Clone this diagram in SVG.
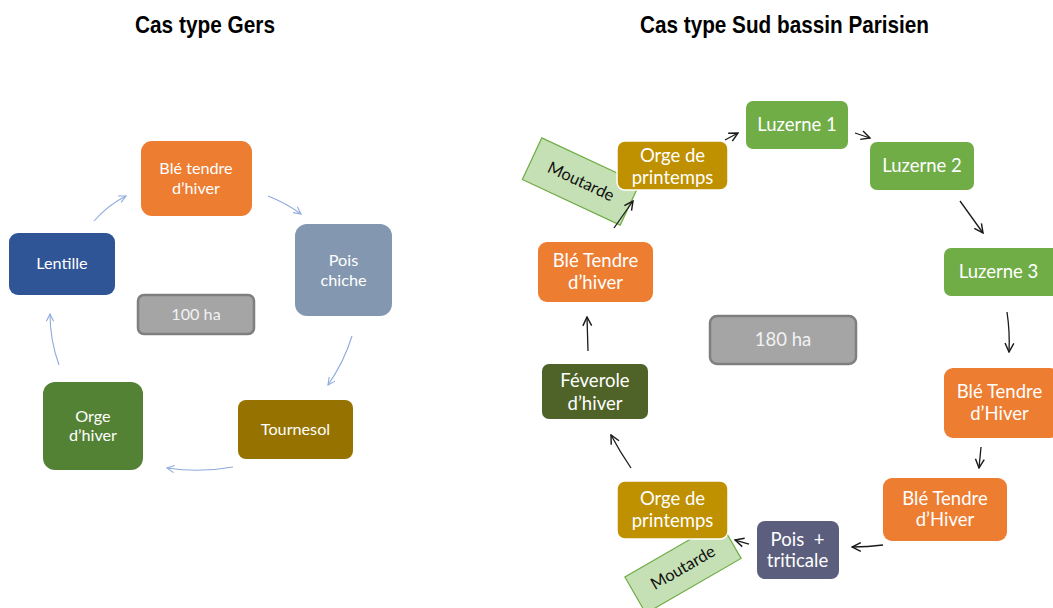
<svg xmlns="http://www.w3.org/2000/svg" width="1053" height="608" viewBox="0 0 1053 608">
<style>
.title{font-family:"Liberation Sans",Arial,sans-serif;font-weight:bold;font-size:24px;fill:#000}
.tl{font-family:Lato,"Open Sans",sans-serif;font-size:16.2px;fill:#fff;text-anchor:middle}
.tr{font-family:Lato,"Open Sans",sans-serif;font-size:18.5px;fill:#fff;text-anchor:middle}
.mt{font-family:Lato,"Open Sans",sans-serif;font-size:16.5px;fill:#111;text-anchor:middle}
.ha{fill:#A5A5A5;stroke:#7F7F7F;stroke-width:2.5}
.hat{fill:#F2F2F2}
.must{fill:#C5E0B4;stroke:#70AD47;stroke-width:1.2}
.cb{fill:none;stroke:#8FAADC;stroke-width:1.1;marker-end:url(#ab)}
.ck{fill:none;stroke:#1a1a1a;stroke-width:1.3;marker-end:url(#ak)}
.orge{fill:#BF9000;stroke:#fff;stroke-width:1.5}
.luz{fill:#70AD47}
.ble{fill:#ED7D31}
</style>
<defs>
<marker id="ab" viewBox="0 0 10 10" refX="9" refY="5" markerWidth="9" markerHeight="9" markerUnits="userSpaceOnUse" orient="auto">
<path d="M1,1 L9,5 L1,9" fill="none" stroke="#8FAADC" stroke-width="1.2"/>
</marker>
<marker id="ak" viewBox="0 0 10 10" refX="9" refY="5" markerWidth="11" markerHeight="11" markerUnits="userSpaceOnUse" orient="auto">
<path d="M1,1 L9,5 L1,9" fill="none" stroke="#1a1a1a" stroke-width="1.3"/>
</marker>
</defs>
<rect width="1053" height="608" fill="#fff"/>

<text class="title" x="135" y="33" textLength="140" lengthAdjust="spacingAndGlyphs">Cas type Gers</text>
<text class="title" x="640" y="33" textLength="289" lengthAdjust="spacingAndGlyphs">Cas type Sud bassin Parisien</text>

<g id="n-ble-gers"><rect class="ble" x="141" y="141" width="111" height="75" rx="11"/>
<text class="tl" x="196" y="173.5">Blé tendre</text><text class="tl" x="196" y="193.5">d’hiver</text></g>
<g id="n-pois-chiche"><rect x="295" y="224" width="97" height="92" rx="12" fill="#8497B0"/>
<text class="tl" x="343.5" y="266">Pois</text><text class="tl" x="343.5" y="285.5">chiche</text></g>
<g id="n-tournesol"><rect x="238" y="400" width="115" height="59" rx="8" fill="#967300"/>
<text class="tl" x="295.5" y="434.5">Tournesol</text></g>
<g id="n-orge-hiver"><rect x="43" y="382" width="100" height="88" rx="12" fill="#548235"/>
<text class="tl" x="93" y="421.5">Orge</text><text class="tl" x="93" y="441">d’hiver</text></g>
<g id="n-lentille"><rect x="9" y="233" width="106" height="62" rx="9" fill="#2F5597"/>
<text class="tl" x="62" y="268.5">Lentille</text></g>
<g id="n-100ha"><rect class="ha" x="138" y="295" width="116" height="39" rx="6"/>
<text class="tl hat" x="196" y="319.5">100 ha</text></g>

<g id="n-moutarde-1"><g transform="translate(581,181.5) rotate(25)">
<rect class="must" x="-54" y="-23" width="108" height="46"/>
<text class="mt" x="0" y="5.5">Moutarde</text></g></g>
<g id="n-orge-printemps-1"><rect class="orge" x="617" y="141" width="111" height="49" rx="8"/>
<text class="tr" x="672.5" y="162">Orge de</text><text class="tr" x="672.5" y="183.5">printemps</text></g>
<g id="n-luzerne-1"><rect class="luz" x="746" y="101" width="102" height="48" rx="7"/>
<text class="tr" x="797" y="131.3">Luzerne 1</text></g>
<g id="n-luzerne-2"><rect class="luz" x="870" y="142" width="104" height="48" rx="7"/>
<text class="tr" x="922" y="172.3">Luzerne 2</text></g>
<g id="n-luzerne-3"><rect class="luz" x="944" y="248" width="115" height="48" rx="7"/>
<text class="tr" x="998.5" y="278.3">Luzerne 3</text></g>
<g id="n-ble-hiver-1"><rect class="ble" x="944" y="368" width="115" height="70" rx="9"/>
<text class="tr" x="999.5" y="398.3">Blé Tendre</text><text class="tr" x="999.5" y="420.3">d’Hiver</text></g>
<g id="n-ble-hiver-2"><rect class="ble" x="883" y="478" width="124" height="63" rx="9"/>
<text class="tr" x="945" y="504.6">Blé Tendre</text><text class="tr" x="945" y="526.3">d’Hiver</text></g>
<g id="n-pois-triticale"><rect x="757" y="521" width="82" height="58" rx="8" fill="#5B5E7C"/>
<text class="tr" x="797.5" y="545.6" xml:space="preserve">Pois  +</text><text class="tr" x="797.5" y="567">triticale</text></g>
<g id="n-moutarde-2"><g transform="translate(683,567.7) rotate(-30)">
<rect class="must" x="-55" y="-21" width="110" height="42"/>
<text class="mt" x="0" y="5.5">Moutarde</text></g></g>
<g id="n-orge-printemps-2"><rect class="orge" x="617" y="481" width="111" height="58" rx="8"/>
<text class="tr" x="672.5" y="505.3">Orge de</text><text class="tr" x="672.5" y="527">printemps</text></g>
<g id="n-feverole"><rect x="542" y="364" width="106" height="55" rx="7" fill="#4F6228"/>
<text class="tr" x="595" y="387.3">Féverole</text><text class="tr" x="595" y="409.6">d’hiver</text></g>
<g id="n-ble-tendre-left"><rect class="ble" x="538" y="242" width="115" height="60" rx="9"/>
<text class="tr" x="595.5" y="267">Blé Tendre</text><text class="tr" x="595.5" y="289">d’hiver</text></g>
<g id="n-180ha"><rect class="ha" x="710" y="316" width="146" height="48" rx="7"/>
<text class="tr hat" x="783" y="346.3">180 ha</text></g>

<g id="connectors">
<path class="cb" d="M94,221 Q108,205 126,196"/>
<path class="cb" d="M268,196 Q286,203 301,214"/>
<path class="cb" d="M352,336 Q344,362 328,385"/>
<path class="cb" d="M233,467 Q200,473 167,468"/>
<path class="cb" d="M59,365 Q50,340 50,314"/>

<path class="ck" d="M614,228 L633,201"/>
<path class="ck" d="M725,140 L738,133"/>
<path class="ck" d="M855,133 L870,138"/>
<path class="ck" d="M960,201 L983,233"/>
<path class="ck" d="M1007,312 Q1010,332 1009,352"/>
<path class="ck" d="M981,447 L979,468"/>
<path class="ck" d="M883,545 Q868,547 852,547"/>
<path class="ck" d="M749,544 L735,540"/>
<path class="ck" d="M631,468 Q620,452 611,435"/>
<path class="ck" d="M588,351 L587,317"/>
</g>
</svg>
